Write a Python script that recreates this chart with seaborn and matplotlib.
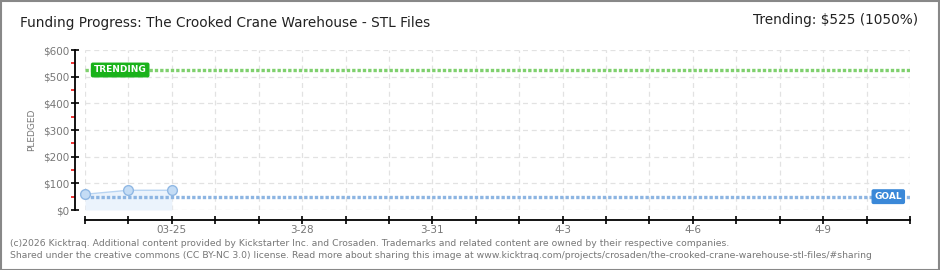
import matplotlib
matplotlib.use("Agg")
import matplotlib.pyplot as plt
import seaborn as sns
import pandas as pd
from matplotlib.patches import Rectangle

sns.set_theme(style="white")
plt.rcParams['font.family'] = ['DejaVu Sans']

# ---- data ----
day_labels = ["3-23", "3-24", "03-25", "3-26", "3-27", "3-28", "3-29", "3-30", "3-31",
              "4-1", "4-2", "4-3", "4-4", "4-5", "4-6", "4-7", "4-8", "4-9", "4-10", "4-11"]
shown_labels = ["03-25", "3-28", "3-31", "4-3", "4-6", "4-9"]
pledged_days = [0, 1, 2]
pledged_values = [59, 74, 74]
goal = 50
trending = 525
y_ticks = [0, 100, 200, 300, 400, 500, 600]
title = "Funding Progress: The Crooked Crane Warehouse - STL Files"
trend_text = "Trending: $525 (1050%)"
footer1 = "(c)2026 Kicktraq. Additional content provided by Kickstarter Inc. and Crosaden. Trademarks and related content are owned by their respective companies."
footer2 = "Shared under the creative commons (CC BY-NC 3.0) license. Read more about sharing this image at www.kicktraq.com/projects/crosaden/the-crooked-crane-warehouse-stl-files/#sharing"

W, H = 940, 270
fig = plt.figure(figsize=(W / 100, H / 100), dpi=100)
fig.patch.set_facecolor("white")
ax = fig.add_axes([85 / W, 1 - 210 / H, (910 - 85) / W, 160 / H])
ax.set_facecolor("white")

df = pd.DataFrame({"day": pledged_days, "pledged": pledged_values})
ax.fill_between(df["day"], 0, df["pledged"], color="#ebf3fc", zorder=1, linewidth=0)
sns.lineplot(data=df, x="day", y="pledged", ax=ax, color="#b8d4f2", linewidth=1.0,
             marker="o", markersize=7, markerfacecolor="#c4dcf5", markeredgecolor="#90b8e4",
             markeredgewidth=1.0, zorder=4)
for ln in ax.lines:
    ln.set_clip_on(False)

ax.axhline(goal, color="#8db5e2", linewidth=2.4, linestyle=(0, (1.0, 0.6)), zorder=3)
ax.axhline(trending, color="#7fd06e", linewidth=2.4, linestyle=(0, (1.0, 0.6)), zorder=3)

n = len(day_labels) - 1
ax.set_xlim(0, n)
ax.set_ylim(0, 600)
ax.set_xticks(range(len(day_labels)))
ax.set_xticklabels([d if d in shown_labels else "" for d in day_labels])
ax.set_yticks(y_ticks)
ax.set_yticklabels([f"${v}" for v in y_ticks])
ax.set_yticks([50, 150, 250, 350, 450, 550], minor=True)
ax.grid(True, which="major", color="#e2e2e2", linestyle=(0, (4, 3)), linewidth=0.9)
ax.set_axisbelow(True)

for s in ["top", "right"]:
    ax.spines[s].set_visible(False)
ax.spines["left"].set_position(("outward", 7))
ax.spines["bottom"].set_position(("outward", 7))
ax.spines["left"].set_color("black")
ax.spines["bottom"].set_color("black")
ax.spines["left"].set_linewidth(1.3)
ax.spines["bottom"].set_linewidth(1.3)
ax.tick_params(axis="both", which="major", direction="inout", length=6, width=1.2,
               color="black", labelsize=7.5, labelcolor="#777777", pad=1,
               left=True, bottom=True)
ax.tick_params(axis="y", which="minor", direction="out", length=3, width=1.2, color="#ee1111", left=True)
ax.set_xlabel("")
ax.set_ylabel("PLEDGED", fontsize=6.5, color="#777777", labelpad=5)

# labels on reference lines
ax.text(0.81, trending, "TRENDING", fontsize=6.5, color="white", fontweight="bold",
        ha="center", va="center", zorder=6,
        bbox=dict(boxstyle="round,pad=0.25,rounding_size=0.15", fc="#19b21a", ec="#19b21a"))
ax.text(n - 0.5, goal, "GOAL", fontsize=6.5, color="white", fontweight="bold",
        ha="center", va="center", zorder=6,
        bbox=dict(boxstyle="round,pad=0.25,rounding_size=0.15", fc="#3a88d8", ec="#3a88d8"))

fig.text(20 / W, 1 - 23 / H, title, fontsize=9.8, color="#222222", ha="left", va="center")
fig.text(918 / W, 1 - 20 / H, trend_text, fontsize=9.8, color="#222222", ha="right", va="center")
fig.text(10 / W, 1 - 243 / H, footer1, fontsize=6.7, color="#777777", ha="left", va="center")
fig.text(10 / W, 1 - 255 / H, footer2, fontsize=6.7, color="#777777", ha="left", va="center")

fig.add_artist(Rectangle((0.5 / W, 0.5 / H), 1 - 1.5 / W, 1 - 1.5 / H, transform=fig.transFigure,
                         fill=False, edgecolor="#888888", linewidth=1.5))

fig.savefig("out.png", dpi=100, facecolor="white")
